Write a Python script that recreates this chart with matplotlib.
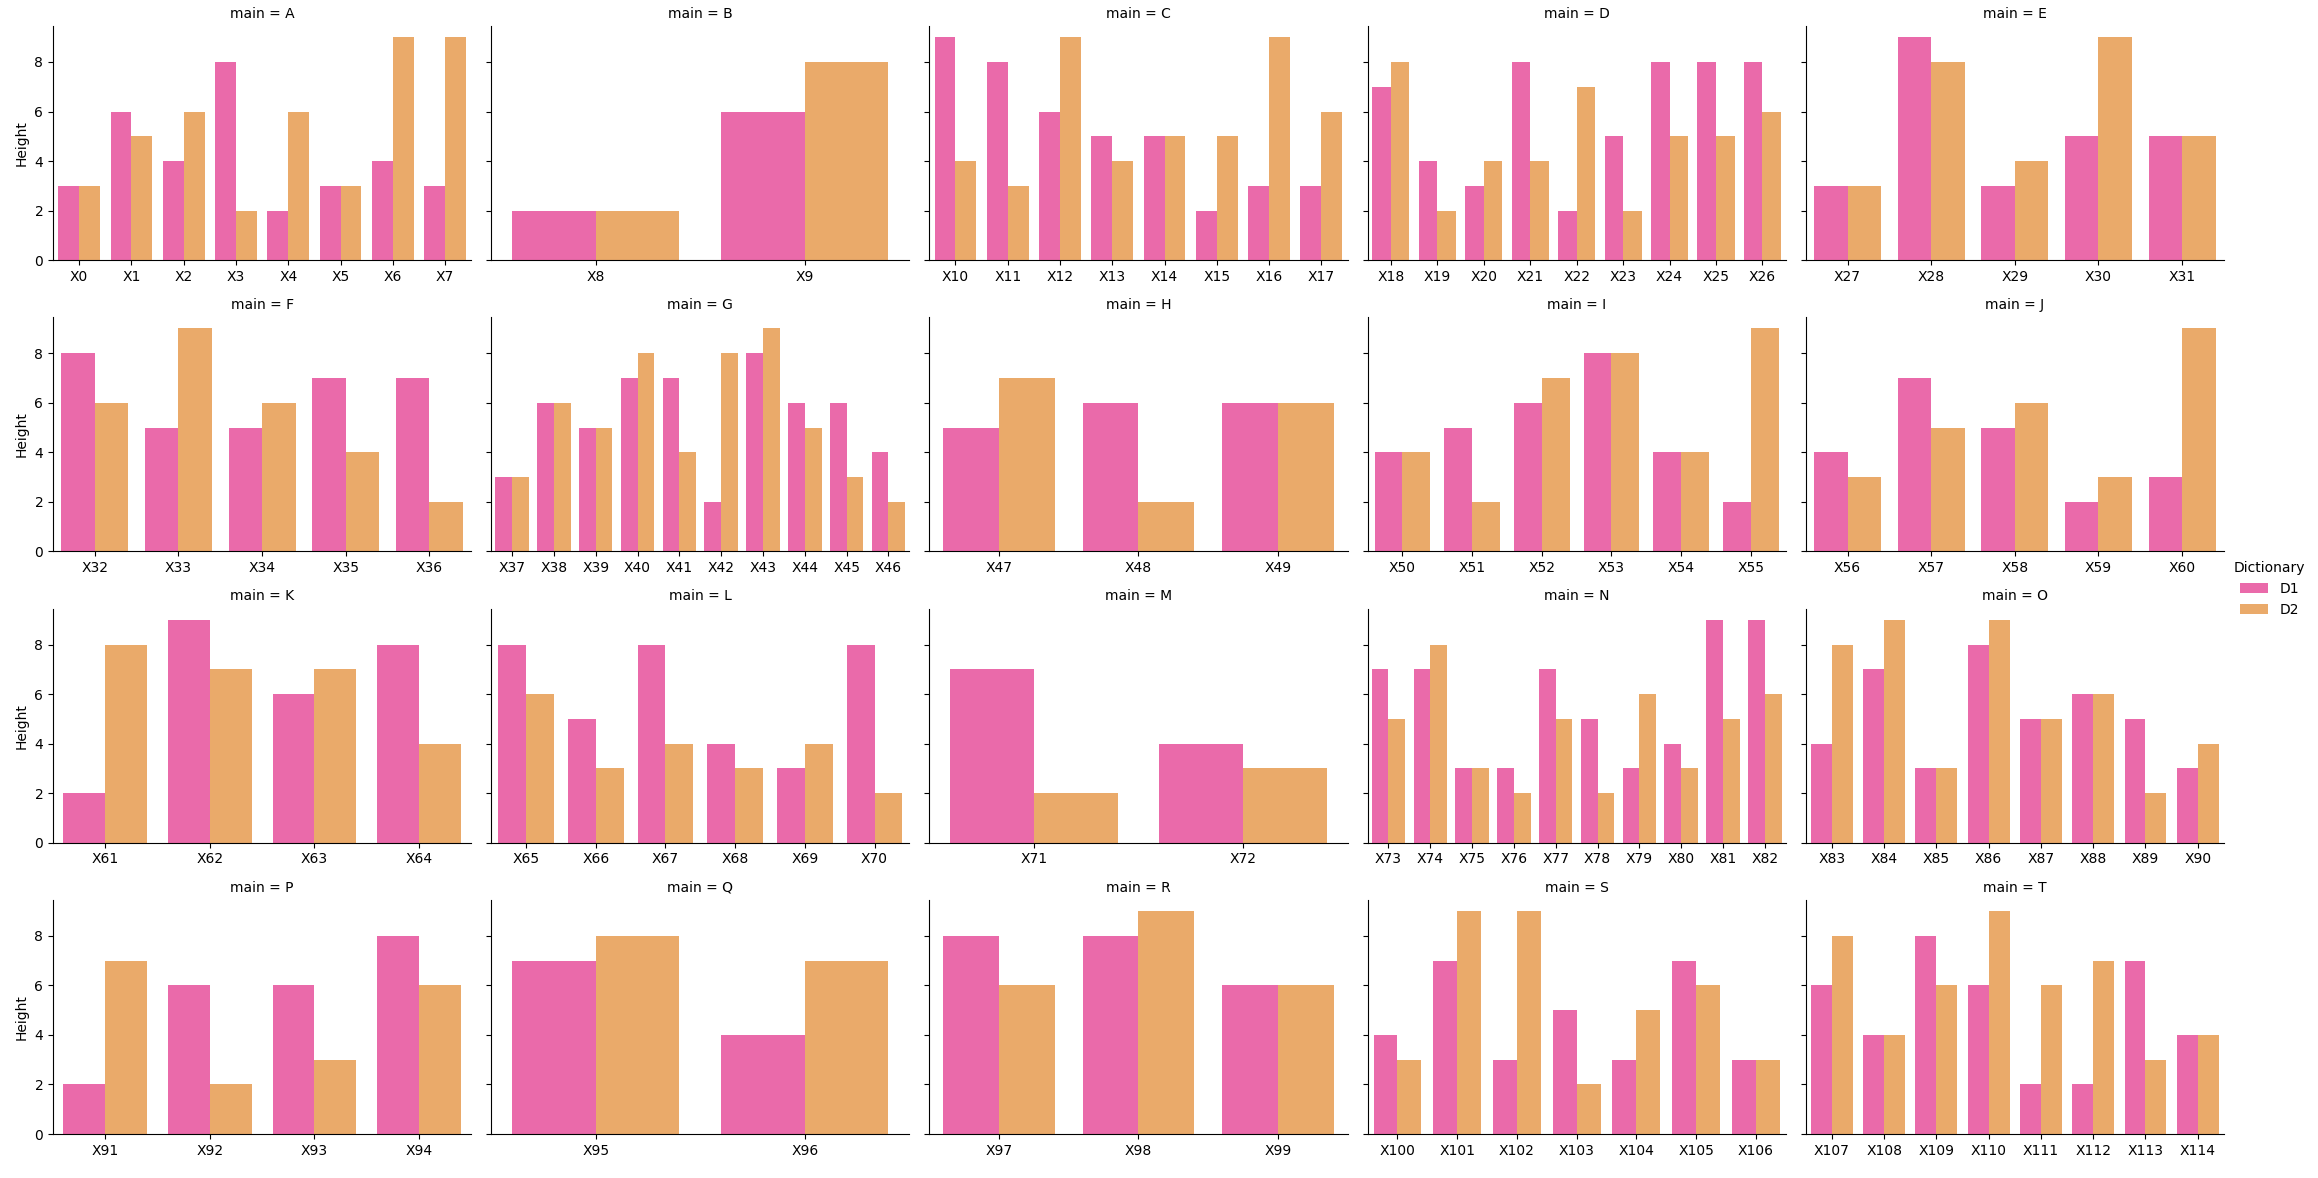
import matplotlib
matplotlib.use("Agg")
import matplotlib.pyplot as plt
import numpy as np
import pandas as pd
import seaborn as sns

# one entry per facet: name and how many X categories it holds
mains = list("ABCDEFGHIJKLMNOPQRST")
counts = [8, 2, 8, 9, 5, 5, 10, 3, 6, 5, 4, 6, 2, 10, 8, 4, 2, 3, 7, 8]

d1 = [3, 6, 4, 8, 2, 3, 4, 3,
      2, 6,
      9, 8, 6, 5, 5, 2, 3, 3,
      7, 4, 3, 8, 2, 5, 8, 8, 8,
      3, 9, 3, 5, 5,
      8, 5, 5, 7, 7,
      3, 6, 5, 7, 7, 2, 8, 6, 6, 4,
      5, 6, 6,
      4, 5, 6, 8, 4, 2,
      4, 7, 5, 2, 3,
      2, 9, 6, 8,
      8, 5, 8, 4, 3, 8,
      7, 4,
      7, 7, 3, 3, 7, 5, 3, 4, 9, 9,
      4, 7, 3, 8, 5, 6, 5, 3,
      2, 6, 6, 8,
      7, 4,
      8, 8, 6,
      4, 7, 3, 5, 3, 7, 3,
      6, 4, 8, 6, 2, 2, 7, 4]

d2 = [3, 5, 6, 2, 6, 3, 9, 9,
      2, 8,
      4, 3, 9, 4, 5, 5, 9, 6,
      8, 2, 4, 4, 7, 2, 5, 5, 6,
      3, 8, 4, 9, 5,
      6, 9, 6, 4, 2,
      3, 6, 5, 8, 4, 8, 9, 5, 3, 2,
      7, 2, 6,
      4, 2, 7, 8, 4, 9,
      3, 5, 6, 3, 9,
      8, 7, 7, 4,
      6, 3, 4, 3, 4, 2,
      2, 3,
      5, 8, 3, 2, 5, 2, 6, 3, 5, 6,
      8, 9, 3, 9, 5, 6, 2, 4,
      7, 2, 3, 6,
      8, 7,
      6, 9, 6,
      3, 9, 9, 2, 5, 6, 3,
      8, 4, 6, 9, 6, 7, 3, 4]

labels = ["X%d" % i for i in range(sum(counts))]
main_col = np.repeat(mains, counts)

df = pd.DataFrame({
    "main": np.concatenate([main_col, main_col]),
    "X": labels + labels,
    "Height": d1 + d2,
    "Dictionary": ["D1"] * len(d1) + ["D2"] * len(d2),
})

g = sns.catplot(data=df, x="X", y="Height", hue="Dictionary", col="main",
                col_wrap=5, kind="bar", sharex=False, palette="spring",
                height=3, aspect=1.5)
g.set_titles("main = {col_name}")
g.set_axis_labels("", "Height")

fig = g.figure
fig.set_size_inches(23.18, 11.78)
fig.subplots_adjust(left=0.02287, right=0.9594, top=0.9779, bottom=0.03735,
                    wspace=0.0478, hspace=0.244)
sns.move_legend(g, "center right", bbox_to_anchor=(1.0, 0.5))

fig.savefig("out.png", dpi=100)
